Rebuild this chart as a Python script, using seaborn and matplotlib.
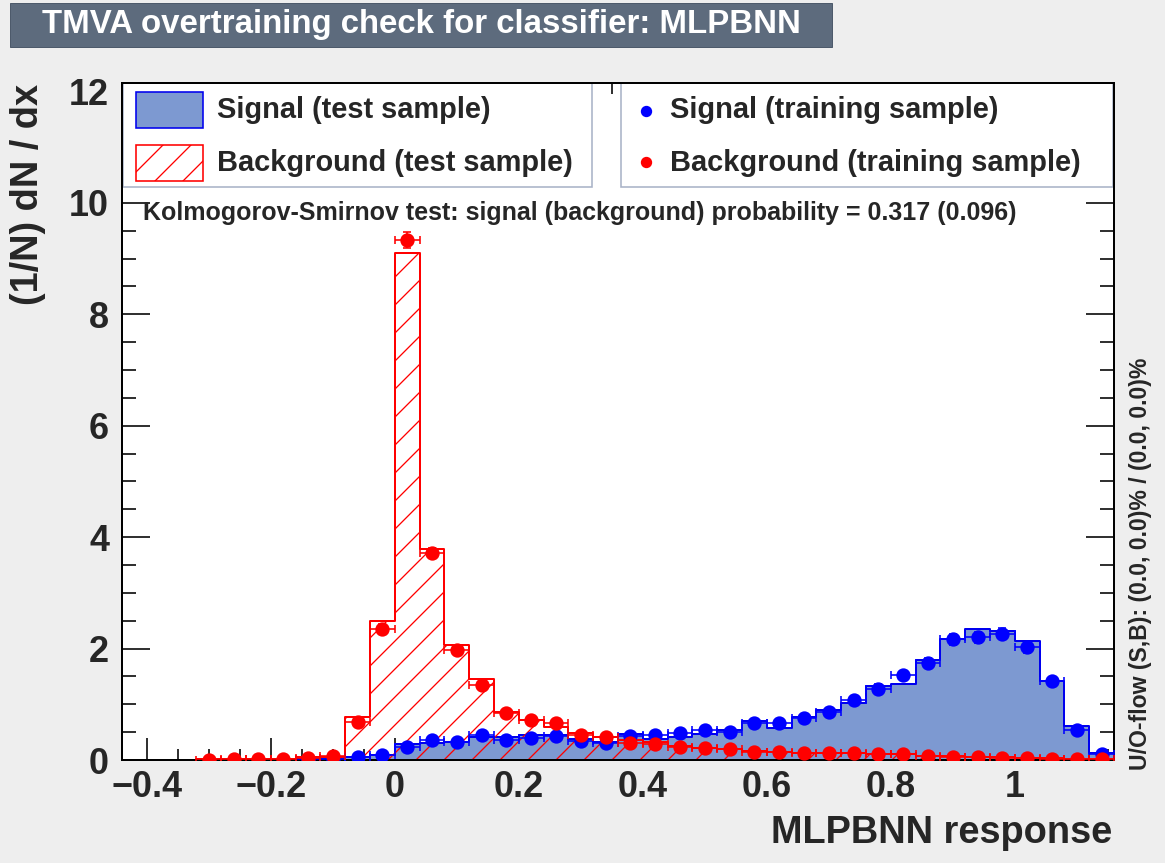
import numpy as np
import pandas as pd
import matplotlib
matplotlib.use("Agg")
import matplotlib.pyplot as plt
import seaborn as sns
from matplotlib.patches import Rectangle
from matplotlib.lines import Line2D
from matplotlib.ticker import FixedLocator, FixedFormatter, MultipleLocator

# ---------------- data ----------------
nan = np.nan
bin_lo = -0.44
bin_width = 0.04
n_bins = 40

sig_test = [0, 0, 0, 0, 0, 0, 0, 0.01, 0.02, 0.05,
            0.09, 0.28, 0.31, 0.33, 0.42, 0.42, 0.45, 0.45, 0.37, 0.32,
            0.46, 0.37, 0.41, 0.46, 0.54, 0.70, 0.57, 0.78, 0.90, 1.03,
            1.33, 1.37, 1.79, 2.18, 2.35, 2.31, 2.14, 1.41, 0.61, 0.13]
bkg_test = [0, 0, 0, 0.01, 0.01, 0.02, 0.02, 0.05, 0.06, 0.78,
            2.49, 9.10, 3.78, 2.07, 1.46, 0.87, 0.72, 0.60, 0.48, 0.42,
            0.36, 0.33, 0.25, 0.22, 0.19, 0.16, 0.14, 0.13, 0.13, 0.12,
            0.11, 0.10, 0.08, 0.07, 0.06, 0.05, 0.04, 0.03, 0.02, 0.02]
sig_train = [nan, nan, nan, nan, nan, nan, nan, 0.00, 0.00, 0.05,
             0.09, 0.24, 0.36, 0.33, 0.45, 0.35, 0.39, 0.43, 0.34, 0.30,
             0.43, 0.45, 0.48, 0.53, 0.51, 0.67, 0.67, 0.76, 0.87, 1.07,
             1.28, 1.52, 1.74, 2.17, 2.20, 2.27, 2.02, 1.41, 0.54, 0.11]
bkg_train = [nan, nan, nan, 0.00, 0.01, 0.01, 0.02, 0.04, 0.07, 0.68,
             2.36, 9.33, 3.71, 1.98, 1.34, 0.84, 0.71, 0.66, 0.45, 0.42,
             0.30, 0.28, 0.23, 0.22, 0.19, 0.14, 0.14, 0.12, 0.13, 0.12,
             0.11, 0.11, 0.08, 0.06, 0.06, 0.04, 0.03, 0.02, 0.01, 0.01]
sig_train_err = [0, 0, 0, 0, 0, 0, 0, 0.01, 0.01, 0.02,
                 0.03, 0.04, 0.04, 0.04, 0.05, 0.04, 0.04, 0.05, 0.04, 0.04,
                 0.05, 0.05, 0.05, 0.05, 0.05, 0.06, 0.06, 0.06, 0.06, 0.07,
                 0.08, 0.08, 0.09, 0.10, 0.10, 0.10, 0.10, 0.08, 0.05, 0.02]
bkg_train_err = [0, 0, 0, 0.01, 0.01, 0.01, 0.01, 0.02, 0.02, 0.05,
                 0.08, 0.14, 0.09, 0.06, 0.05, 0.04, 0.04, 0.04, 0.03, 0.03,
                 0.03, 0.03, 0.03, 0.03, 0.02, 0.02, 0.02, 0.02, 0.02, 0.02,
                 0.02, 0.02, 0.02, 0.01, 0.01, 0.01, 0.01, 0.01, 0.01, 0.01]

xtick_values = [-0.4, -0.2, 0.0, 0.2, 0.4, 0.6, 0.8, 1.0]
xtick_labels = ["\u22120.4", "\u22120.2", "0", "0.2", "0.4", "0.6", "0.8", "1"]
ytick_values = [0, 2, 4, 6, 8, 10, 12]
ytick_labels = ["0", "2", "4", "6", "8", "10", "12"]

title = "TMVA overtraining check for classifier: MLPBNN"
xlabel = "MLPBNN response"
ylabel = "(1/N) dN / dx"
ks_text = "Kolmogorov-Smirnov test: signal (background) probability = 0.317 (0.096)"
uo_text = "U/O-flow (S,B): (0.0, 0.0)% / (0.0, 0.0)%"
legend_labels = ["Signal (test sample)", "Background (test sample)",
                 "Signal (training sample)", "Background (training sample)"]

# ---------------- style ----------------
W, H = 1165, 863
DPI = 168


def pt(px):
    return px * 72.0 / DPI


sns.set_style("ticks")
plt.rcParams["font.family"] = ["Liberation Sans", "DejaVu Sans"]
plt.rcParams["font.weight"] = "bold"
plt.rcParams["hatch.linewidth"] = pt(1.3)
plt.rcParams["hatch.color"] = "#ff0000"

SIG_FILL = "#7d99d1"
SIG_LINE = "#0000ee"
BKG_LINE = "#ff0000"
BG = "#eeeeee"

fig = plt.figure(figsize=(W / DPI, H / DPI), dpi=DPI, facecolor=BG)

AX_L, AX_R, AX_T, AX_B = 122, 1114, 83, 760
ax = fig.add_axes([AX_L / W, (H - AX_B) / H, (AX_R - AX_L) / W, (AX_B - AX_T) / H])
ax.set_facecolor("white")


def fx(x):
    return x / W


def fy(y):
    return 1 - y / H


centers = bin_lo + bin_width * (np.arange(n_bins) + 0.5)
edges = (bin_lo + bin_width * np.arange(n_bins + 1)).tolist()
df = pd.DataFrame({"x": centers, "sig": sig_test, "bkg": bkg_test})

# signal test: filled step histogram
sns.histplot(data=df, x="x", weights="sig", bins=edges, element="step", fill=True,
             color=SIG_FILL, edgecolor=SIG_LINE, linewidth=pt(2), alpha=1, ax=ax, zorder=1)
sig_coll = ax.collections[-1]
sig_coll.set_facecolor(SIG_FILL)
sig_coll.set_edgecolor(SIG_LINE)

# background test: hatched step histogram
sns.histplot(data=df, x="x", weights="bkg", bins=edges, element="step", fill=True,
             color=BKG_LINE, linewidth=pt(2), alpha=1, ax=ax, zorder=1.2)
bkg_coll = ax.collections[-1]
bkg_coll.set_facecolor("none")
bkg_coll.set_edgecolor(BKG_LINE)
bkg_coll.set_hatch("//")

# training samples: points with error bars
ax.errorbar(centers, sig_train, yerr=sig_train_err, xerr=bin_width / 2, fmt="o",
            color="#0000ff", ms=pt(12), elinewidth=pt(1.6), capsize=pt(4),
            capthick=pt(1.6), zorder=3)
ax.errorbar(centers, bkg_train, yerr=bkg_train_err, xerr=bin_width / 2, fmt="o",
            color="#ff0000", ms=pt(12), elinewidth=pt(1.6), capsize=pt(4),
            capthick=pt(1.6), zorder=3.1)

ax.set_xlim(bin_lo, bin_lo + n_bins * bin_width)
ax.set_ylim(0, 12.15)
ax.set_xlabel("")
ax.set_ylabel("")

ax.xaxis.set_major_locator(FixedLocator(xtick_values))
ax.xaxis.set_major_formatter(FixedFormatter(xtick_labels))
ax.xaxis.set_minor_locator(MultipleLocator(0.05))
ax.yaxis.set_major_locator(FixedLocator(ytick_values))
ax.yaxis.set_major_formatter(FixedFormatter(ytick_labels))
ax.yaxis.set_minor_locator(MultipleLocator(0.5))
ax.tick_params(which="both", direction="in", top=True, right=True,
               width=pt(1.6), color="black")
ax.tick_params(axis="x", which="major", length=pt(22), labelsize=pt(36), pad=pt(10))
ax.tick_params(axis="x", which="minor", length=pt(11))
ax.tick_params(axis="y", which="major", length=pt(28), labelsize=pt(36), pad=pt(13))
ax.tick_params(axis="y", which="minor", length=pt(14))
for s in ax.spines.values():
    s.set_linewidth(pt(2))
    s.set_color("black")
    s.set_visible(True)

# ---------------- legend boxes ----------------
def frect(x0, y0, x1, y1, **kw):
    return Rectangle((fx(x0), fy(y1)), fx(x1) - fx(x0), fy(y0) - fy(y1),
                     transform=fig.transFigure, **kw)


LEG_EC = "#a9b3c8"
ax.add_patch(frect(123, 83, 592, 187, fc="white", ec=LEG_EC, lw=pt(1.6), zorder=2.1, clip_on=False))
ax.add_patch(frect(621, 83, 1113, 187, fc="white", ec=LEG_EC, lw=pt(1.6), zorder=2.1, clip_on=False))
ax.add_patch(frect(136, 92, 203, 128, fc=SIG_FILL, ec=SIG_LINE, lw=pt(1.6), zorder=2.2, clip_on=False))
ax.add_patch(frect(136, 145, 203, 181, fc="white", ec=BKG_LINE, lw=pt(1.6), hatch="//",
                   zorder=2.2, clip_on=False))
ax.add_line(Line2D([fx(646)], [fy(111)], transform=fig.transFigure, marker="o", ms=pt(9),
                   color="#0000ff", ls="none", zorder=2.2, clip_on=False))
ax.add_line(Line2D([fx(646)], [fy(162)], transform=fig.transFigure, marker="o", ms=pt(9),
                   color="#ff0000", ls="none", zorder=2.2, clip_on=False))

LEG_FS = pt(29)
fig.text(fx(217), fy(110), legend_labels[0], ha="left", va="center", fontsize=LEG_FS)
fig.text(fx(217), fy(163), legend_labels[1], ha="left", va="center", fontsize=LEG_FS)
fig.text(fx(670), fy(110), legend_labels[2], ha="left", va="center", fontsize=LEG_FS)
fig.text(fx(670), fy(163), legend_labels[3], ha="left", va="center", fontsize=LEG_FS)

# ---------------- texts ----------------
fig.text(fx(143), fy(213), ks_text, ha="left", va="center", fontsize=pt(25))
fig.text(fx(1112), fy(833), xlabel, ha="right", va="center", fontsize=pt(38))
fig.text(fx(28), fy(84), ylabel, ha="center", va="top", rotation=90, fontsize=pt(38))
fig.text(fx(1140), fy(770), uo_text, ha="center", va="bottom", rotation=90, fontsize=pt(23))

# title box
fig.patches.append(Rectangle((fx(10), fy(47)), fx(832) - fx(10), fy(3) - fy(47),
                             transform=fig.transFigure, fc="#5d6b7d", ec="#4d5a6b",
                             lw=pt(1)))
fig.text(fx(421), fy(25), title, ha="center", va="center", color="white", fontsize=pt(33))

fig.savefig("out.png", dpi=DPI, facecolor=BG)
